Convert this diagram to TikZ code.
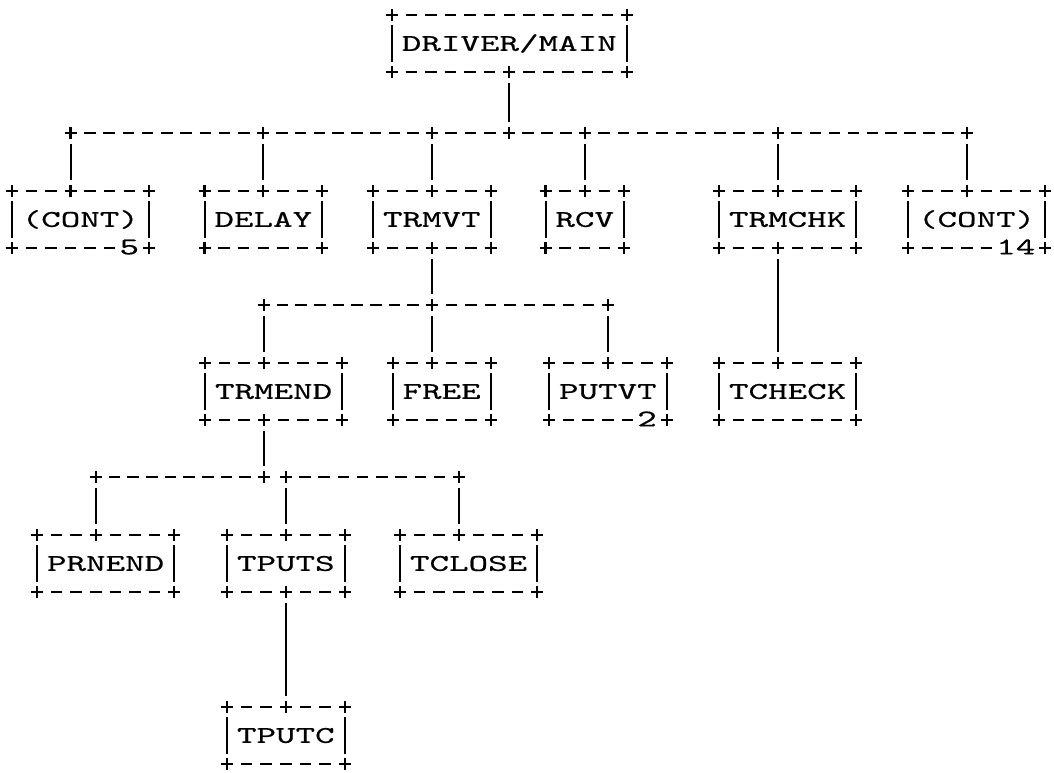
\documentclass[tikz,border=0pt]{standalone}
\usepackage{fontspec}
\usetikzlibrary{calc}
\newfontfamily\chartfont[FakeStretch=1.55,FakeBold=0.5]{lmmono10-regular.otf}

% dashes of a typed line, one per character cell, between two points
\newcommand\dashrun[2]{%
  \path (#1); \pgfgetlastxy{\runax}{\runay}%
  \path (#2); \pgfgetlastxy{\runbx}{\runby}%
  \pgfmathsetmacro\runcells{round((\runbx-\runax)/19.6)}%
  \ifdim\runcells pt>1.5pt
    \pgfmathsetmacro\runpitch{(\runbx-\runax)/\runcells}%
    \pgfmathsetmacro\rungap{\runpitch-11.5}%
    \draw[ink, dash pattern=on 11.5pt off \rungap pt]
      (\runax+\runpitch-5.75pt,\runay) -- (\runbx-\runpitch+5.75pt,\runay);
  \fi}

\begin{document}
\begin{tikzpicture}[x=1pt,y=-1pt,
  box/.style={minimum width=#1*19.6pt, minimum height=57pt, inner sep=0pt, outer sep=0pt,
    text height=14.7pt, text depth=0pt, font=\chartfont\fontsize{24pt}{24pt}\selectfont},
  tag/.style={inner sep=0pt, text height=14.7pt, text depth=0pt,
    font=\chartfont\fontsize{24pt}{24pt}\selectfont},
  ink/.style={line width=2.6pt},
  link/.style={line width=2pt, shorten <=11pt, shorten >=11pt},
  side/.style={line width=2pt, shorten <=10pt, shorten >=10pt},
  plus/.pic={\draw[line width=2.2pt] (-6,0) -- (6,0) (0,-6) -- (0,6);}]
\useasboundingbox (0,0) rectangle (1054,772);

\node[box=12] (main) at (509.3,43.5) {DRIVER/MAIN};
\node[box=7] (cont5) at (80.3,219.5) {(CONT)};
\node[box=6] (delay) at (263.3,219.5) {DELAY};
\node[box=6] (trmvt) at (431.8,219.5) {TRMVT};
\node[box=4] (rcv) at (584.7,219.5) {RCV};
\node[box=7] (trmchk) at (787.6,219.5) {TRMCHK};
\node[box=7] (cont14) at (976.6,219.5) {(CONT)};
\node[box=7] (trmend) at (273.6,391.5) {TRMEND};
\node[box=5] (free) at (441.6,391.5) {FREE};
\node[box=6] (putvt) at (607.8,391.5) {PUTVT};
\node[box=7] (tcheck) at (787.6,391.5) {TCHECK};
\node[box=7] (prnend) at (105.6,563.5) {PRNEND};
\node[box=6] (tputs) at (285.8,563.5) {TPUTS};
\node[box=7] (tclose) at (468.6,563.5) {TCLOSE};
\node[box=6] (tputc) at (285.8,735.5) {TPUTC};

\node[tag] (n5) at ($(cont5.south east)+(-19.6,-1)$) {5};
\node[tag] (n14) at ($(cont14.south east)+(-29.4,-1)$) {14};
\node[tag] (n2) at ($(putvt.south east)+(-19.6,-1)$) {2};

\coordinate (bus1) at (0,133);
\coordinate (bus2) at (0,305);
\coordinate (bus3) at (0,477);

\coordinate (main-b) at (main.south);
\coordinate (trmvt-b) at (trmvt.south);
\coordinate (tputs-b) at (tputs.south);
\coordinate (trmchk-b) at ($(trmchk.south)+(-9.8,0)$);
\coordinate (trmend-b) at ($(trmend.south)+(-9.8,0)$);
\foreach \b in {delay,trmvt,rcv,putvt,tputs,tputc}
  \coordinate (\b-t) at (\b.north);
\foreach \b in {cont5,trmchk,cont14,trmend,free,tcheck,prnend,tclose}
  \coordinate (\b-t) at ($(\b.north)+(-9.8,0)$);

\foreach \b in {main,cont5,delay,trmvt,rcv,trmchk,cont14,trmend,free,putvt,tcheck,prnend,tputs,tclose,tputc} {
  \dashrun{\b.north west}{\b.north east}
  \draw[side] (\b.north west) -- (\b.south west);
  \draw[side] (\b.north east) -- (\b.south east);
  \foreach \c in {north west,north east,south west,south east}
    \pic at (\b.\c) {plus};
}
\foreach \b in {main,delay,trmvt,rcv,trmchk,trmend,free,tcheck,prnend,tputs,tclose,tputc}
  {\dashrun{\b.south west}{\b.south east}}
\dashrun{cont5.south west}{n5.center}
\dashrun{putvt.south west}{n2.center}
\dashrun{cont14.south west}{$(n14.center)+(-9.8,0)$}

\foreach \a/\b in {cont5-t/delay-t,delay-t/trmvt-t,trmvt-t/main-b,main-b/rcv-t,rcv-t/trmchk-t,trmchk-t/cont14-t}
  {\dashrun{\a |- bus1}{\b |- bus1}}
\foreach \a/\b in {trmend-t/trmvt-b,trmvt-b/putvt-t}
  {\dashrun{\a |- bus2}{\b |- bus2}}
\foreach \a/\b in {prnend-t/trmend-b,tputs-t/tclose-t}
  {\dashrun{\a |- bus3}{\b |- bus3}}

\draw[link] (main-b) -- (main-b |- bus1);
\foreach \b in {cont5,delay,trmvt,rcv,trmchk,cont14}
  \draw[link] (\b-t |- bus1) -- (\b-t);
\draw[link] (trmvt-b) -- (trmvt-b |- bus2);
\foreach \b in {trmend,free,putvt}
  \draw[link] (\b-t |- bus2) -- (\b-t);
\draw[link] (trmchk-b) -- (tcheck-t);
\draw[link] (trmend-b) -- (trmend-b |- bus3);
\foreach \b in {prnend,tputs,tclose}
  \draw[link] (\b-t |- bus3) -- (\b-t);
\draw[link] (tputs-b) -- (tputc-t);

\foreach \j in {main-b,trmvt-b,trmchk-b,trmend-b,tputs-b,cont5-t,delay-t,trmvt-t,rcv-t,trmchk-t,cont14-t,trmend-t,free-t,putvt-t,tcheck-t,prnend-t,tputs-t,tclose-t,tputc-t}
  \pic at (\j) {plus};
\foreach \j in {cont5-t,delay-t,trmvt-t,main-b,rcv-t,trmchk-t,cont14-t}
  \pic at (\j |- bus1) {plus};
\foreach \j in {trmend-t,trmvt-b,putvt-t}
  \pic at (\j |- bus2) {plus};
\foreach \j in {prnend-t,trmend-b,tputs-t,tclose-t}
  \pic at (\j |- bus3) {plus};
\end{tikzpicture}
\end{document}
